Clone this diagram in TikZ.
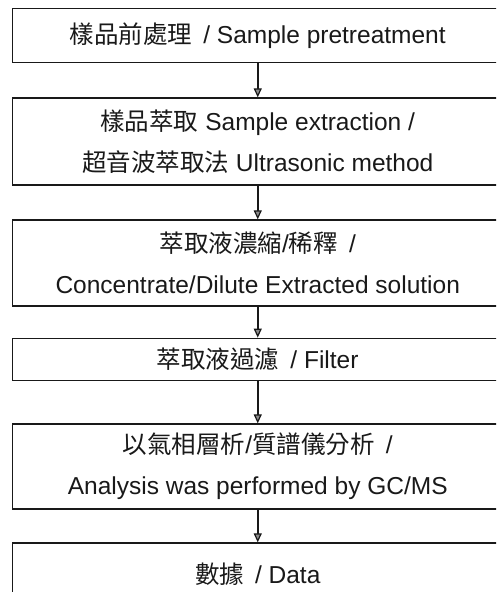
\documentclass[tikz,border=0pt]{standalone}
\usepackage{fontspec}
\setmainfont{Liberation Sans}
\newfontfamily\cjk{Noto Sans CJK TC}
\usetikzlibrary{arrows.meta}
\tikzset{
  stepbox/.style={draw=black!90, line width=1.3pt, minimum width=490.5pt, inner sep=0pt,
    align=center, font=\fontsize{24.5pt}{41pt}\selectfont, text=black!90},
  flowarrow/.style={draw=black!90, line width=1.5pt, -{Triangle[width=8pt, length=9pt, line width=1.2pt, fill=black!45]}}
}
\begin{document}
\begin{tikzpicture}[x=1pt, y=-1pt]
\useasboundingbox (0,0) rectangle (496,592);
\clip (0,0) rectangle (496,592);
\node[stepbox, minimum height=54pt] (b1) at (257.75,35.25) {{\cjk 樣品前處理}\hspace{0.45em}/ Sample pretreatment};
\node[stepbox, minimum height=87pt] (b2) at (257.75,141.5) {{\cjk 樣品萃取} Sample extraction /\\{\cjk 超音波萃取法} Ultrasonic method};
\node[stepbox, minimum height=86pt] (b3) at (257.75,263) {{\cjk 萃取液濃縮}/{\cjk 稀釋}\hspace{0.45em}/\\Concentrate/Dilute Extracted solution};
\node[stepbox, minimum height=42pt] (b4) at (257.75,359.25) {{\cjk 萃取液過濾}\hspace{0.45em}/ Filter};
\node[stepbox, minimum height=85pt] (b5) at (257.75,466.5) {{\cjk 以氣相層析}/{\cjk 質譜儀分析}\hspace{0.45em}/\\Analysis was performed by GC/MS};
\node[stepbox, minimum height=62pt] (b6) at (257.75,574) {{\cjk 數據}\hspace{0.45em}/ Data};
\draw[flowarrow] (b1.south) -- (b2.north);
\draw[flowarrow] (b2.south) -- (b3.north);
\draw[flowarrow] (b3.south) -- (b4.north);
\draw[flowarrow] (b4.south) -- (b5.north);
\draw[flowarrow] (b5.south) -- (b6.north);
\end{tikzpicture}
\end{document}
